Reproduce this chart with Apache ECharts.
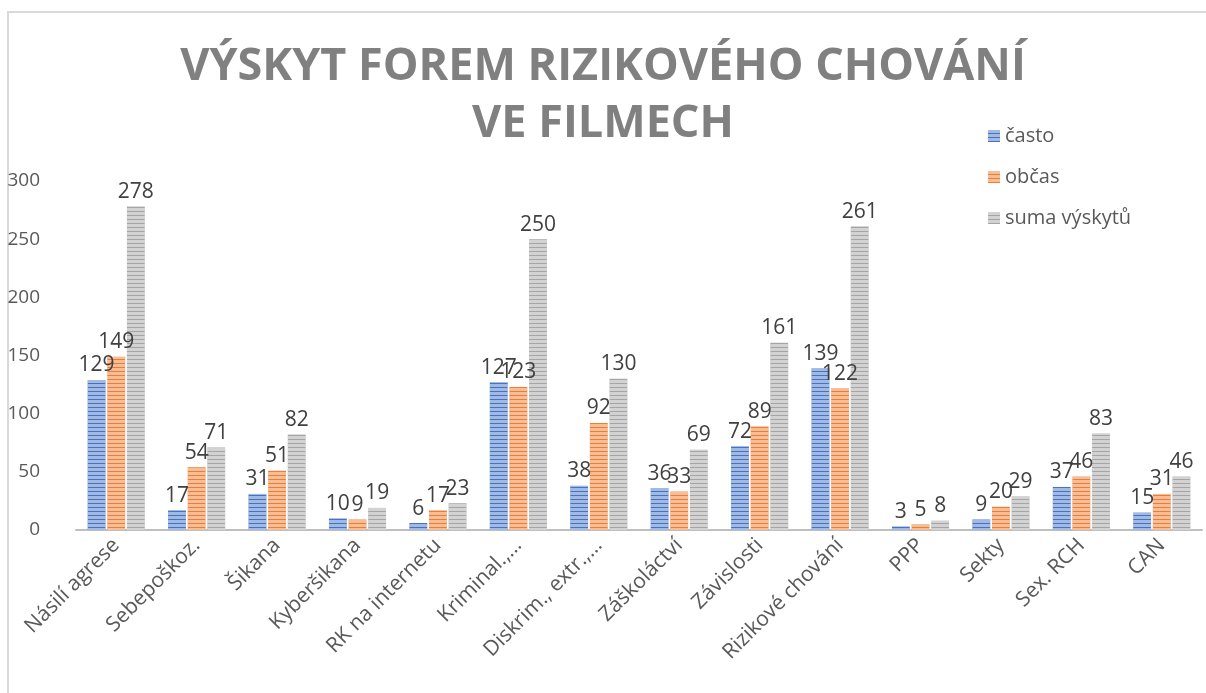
<!DOCTYPE html>
<html><head><meta charset="utf-8">
<script src="https://cdn.jsdelivr.net/npm/echarts@6/dist/echarts.min.js"></script>
<style>html,body{margin:0;padding:0;background:#fff}#c{width:1206px;height:693px}</style>
</head><body><div id="c"></div>
<script>
const categories = ["Násilí agrese","Sebepoškoz.","Šikana","Kyberšikana","RK na internetu","Kriminal.,…","Diskrim., extr.,…","Záškoláctví","Závislosti","Rizikové chování","PPP","Sekty","Sex. RCH","CAN"];
const casto = [129,17,31,10,6,127,38,36,72,139,3,9,37,15];
const obcas = [149,54,51,9,17,123,92,33,89,122,5,20,46,31];
const suma = [278,71,82,19,23,250,130,69,161,261,8,29,83,46];
const seriesNames = ["často","občas","suma výskytů"];
const colors = ["#4472C4","#ED7D31","#A5A5A5"];

const font = "'Open Sans', 'Liberation Sans', sans-serif";
const decal = {symbol:'rect', symbolSize:1, color:'rgba(255,255,255,0.5)', dashArrayX:[1,0], dashArrayY:[3,1], rotation:0};
const chart = echarts.init(document.getElementById('c'));
function mk(name, data, color){
  return {name, type:'bar', data, barGap:'10%', barCategoryGap:'29%',
    itemStyle:{color, decal},
    label:{show:true, position:'top', distance:4, color:'#404040', fontSize:21, fontFamily:font}};
}
chart.setOption({
  animation:false,
  aria:{enabled:false, decal:{show:true}},
  title:{text:'VÝSKYT FOREM RIZIKOVÉHO CHOVÁNÍ\nVE FILMECH', left:'center', top:34,
    textStyle:{fontFamily:font, fontSize:45, fontWeight:'bold', color:'#808080', lineHeight:57}},
  legend:{orient:'vertical', left:983, top:121, itemWidth:12, itemHeight:12, itemGap:21,
    icon:'rect', textStyle:{fontFamily:font, fontSize:20, color:'#595959'}},
  grid:{left:76, right:4, top:181, bottom:163, containLabel:false},
  xAxis:{type:'category', data:categories,
    axisLine:{lineStyle:{color:'#BFBFBF', width:2}}, axisTick:{show:false},
    axisLabel:{rotate:45, interval:0, fontFamily:font, fontSize:21, color:'#595959', margin:12}},
  yAxis:{type:'value', min:0, max:300, interval:50, splitLine:{show:false},
    axisLabel:{fontFamily:font, fontSize:19, color:'#595959', margin:36}},
  series:[mk(seriesNames[0], casto, colors[0]), mk(seriesNames[1], obcas, colors[1]), mk(seriesNames[2], suma, colors[2])],
  graphic:[{type:'rect', shape:{x:8, y:12, width:1300, height:800}, style:{fill:'none', stroke:'#D9D9D9', lineWidth:2}, silent:true}]
});
</script></body></html>
